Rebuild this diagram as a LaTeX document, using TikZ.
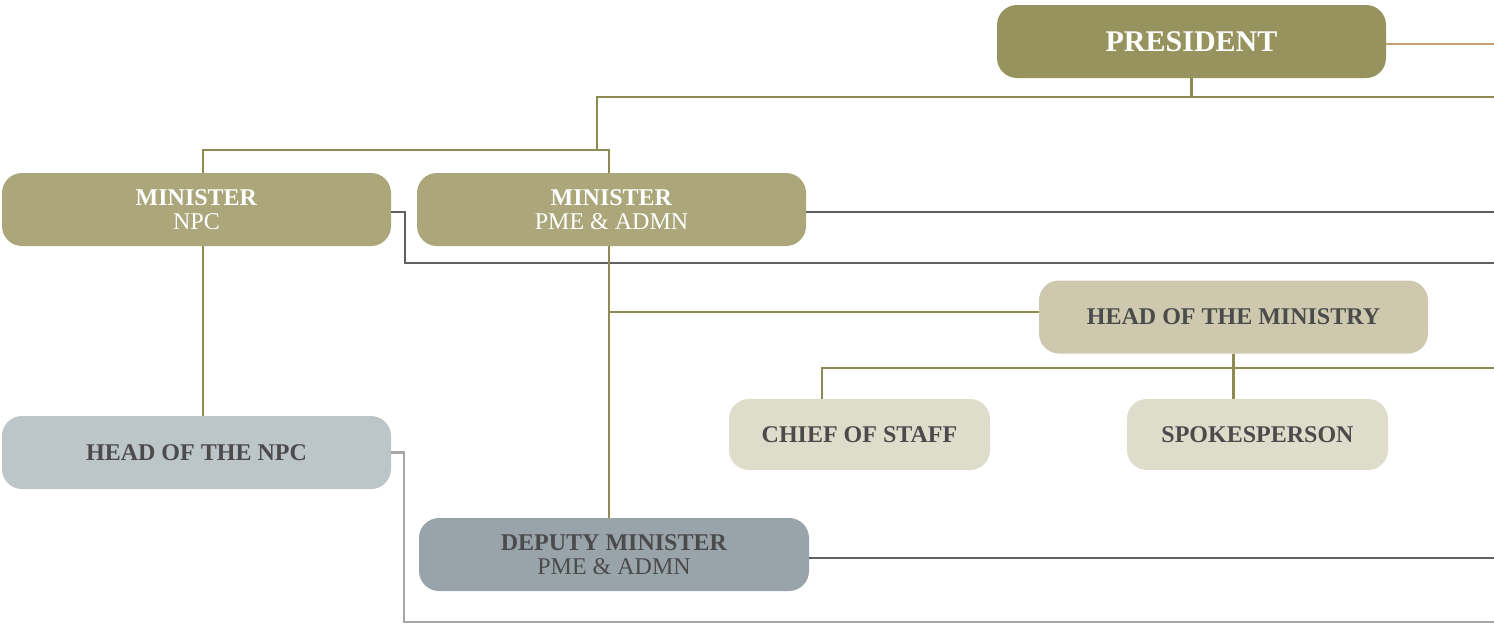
\documentclass[tikz,border=0pt]{standalone}
\usepackage{fontspec}
\setmainfont{Liberation Serif}
\definecolor{cpres}{HTML}{97935E}
\definecolor{cmin}{HTML}{ABA77B}
\definecolor{chom}{HTML}{CDC8AE}
\definecolor{cstaff}{HTML}{DEDCCA}
\definecolor{chnpc}{HTML}{BCC5C8}
\definecolor{cdep}{HTML}{99A3AA}
\definecolor{lolive}{HTML}{8E8B52}
\definecolor{ltan}{HTML}{C2A074}
\definecolor{ldark}{HTML}{5F6163}
\definecolor{llight}{HTML}{A5A8AA}
\definecolor{tdark}{HTML}{4B4B4B}
\begin{document}
\begin{tikzpicture}[x=1pt,y=-1pt,
  box/.style={rectangle, rounded corners=20pt, inner sep=0pt, align=center, font=\fontsize{24}{24}\selectfont},
  bigbox/.style={box, minimum width=389pt, minimum height=73pt},
  smallbox/.style={box, minimum width=261pt, minimum height=71pt},
  oline/.style={draw=lolive, line width=2.5pt},
  tline/.style={draw=ltan, line width=2.5pt},
  dline/.style={draw=ldark, line width=2.5pt},
  gline/.style={draw=llight, line width=2.5pt}]
\useasboundingbox (0,0) rectangle (1494,624);
\fill[white] (0,0) rectangle (1494,624);

% nodes
\node[bigbox, fill=cpres, text=white, font=\fontsize{30}{30}\selectfont\bfseries] (pres) at (1191.5,41.5) {PRESIDENT};
\node[bigbox, fill=cmin, text=white] (nmin) at (196.5,209.5) {\textbf{MINISTER}\\NPC};
\node[bigbox, fill=cmin, text=white] (pmin) at (611.5,209.5) {\textbf{MINISTER}\\PME \& ADMN};
\node[bigbox, fill=chom, text=tdark, font=\fontsize{24}{24}\selectfont\bfseries] (hom) at (1233.5,317) {HEAD OF THE MINISTRY};
\node[smallbox, fill=cstaff, text=tdark, font=\fontsize{24}{24}\selectfont\bfseries] (cos) at (859.5,434.5) {CHIEF OF STAFF};
\node[smallbox, fill=cstaff, text=tdark, font=\fontsize{24}{24}\selectfont\bfseries] (spk) at (1257.5,434.5) {SPOKESPERSON};
\node[bigbox, fill=chnpc, text=tdark, font=\fontsize{24}{24}\selectfont\bfseries] (hnpc) at (196.5,452.5) {HEAD OF THE NPC};
\node[bigbox, minimum width=390pt, fill=cdep, text=tdark] (dep) at (614,554.5) {\textbf{DEPUTY MINISTER}\\PME \& ADMN};

% coordinates
\coordinate (lspine) at (203,0);
\coordinate (spine) at (609,0);
\coordinate (bus1) at (597,97);
\coordinate (e1) at (1494,97);
\coordinate (b2) at (400,150);
\coordinate (e0) at (1494,44);
\coordinate (e3) at (1494,212);
\coordinate (e4) at (1494,263);
\coordinate (hombus) at (822,368);
\coordinate (e5) at (1494,368);
\coordinate (e6) at (1494,558);
\coordinate (e7) at (1494,622);

% connectors
\begin{scope}[on background layer/.style={}]
\draw[tline] ([yshift=-2.5pt]pres.east) -- (e0);
\draw[oline] (pres.south) -- (pres.south |- e1);
\draw[oline] (e1) -- (bus1) -- (bus1 |- b2);
\draw[oline] (nmin.north -| lspine) |- (b2) -| (pmin.north -| spine);
\draw[dline] ([yshift=-2.5pt]pmin.east) -- (e3);
\draw[dline] ([yshift=-2.5pt]nmin.east) -- ++(14,0) |- (e4);
\draw[oline] (nmin.south -| lspine) -- (hnpc.north -| lspine);
\draw[oline] (pmin.south -| spine) -- (dep.north -| spine);
\draw[oline] ([yshift=5pt]hom.west -| spine) -- ([yshift=5pt]hom.west);
\draw[oline] (hom.south) -- (spk.north -| hom.south);
\draw[oline] (e5) -- (hombus) -- (cos.north -| hombus);
\draw[gline] (hnpc.east) -- ++(13,0) |- (e7);
\draw[dline] ([yshift=-3.5pt]dep.east) -- (e6);
\end{scope}
\end{tikzpicture}
\end{document}
